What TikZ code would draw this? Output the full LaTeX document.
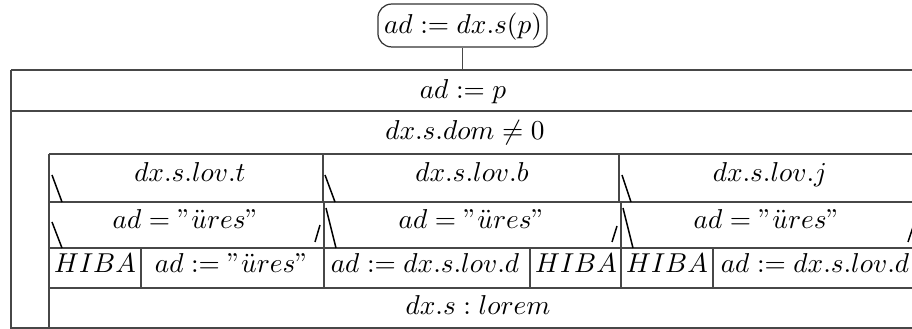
\documentclass[tikz,border=0pt]{standalone}
\begin{document}
\begin{tikzpicture}[x=0.366pt,y=-0.366pt,
  ln/.style={draw=black!72, line width=0.45pt},
  mk/.style={draw=black, line width=0.55pt},
  lbl/.style={inner sep=0pt, anchor=base}]
\useasboundingbox (0,0) rectangle (912,329);
\clip (0,0) rectangle (912,329);
% top node
\node[draw=black!80, line width=0.45pt, rounded corners=5pt, inner sep=0pt,
      minimum width=61.9pt, minimum height=15.7pt] (top) at (462.5,25.5) {};
\node[lbl] (ttop) at (463,34) {$ad := dx.s(p)$};
\coordinate (otop) at (464,70);
\draw[ln] (top.south) -- (top.south |- otop);
% outer structure
\draw[ln] (11,70) -- (925,70);
\draw[ln] (11,70) -- (11,328) -- (925,328);
\draw[ln] (11,111) -- (925,111);
\node[lbl] (assign) at (463,99) {$ad := p$};
\node[lbl] (loop) at (465,140) {$dx.s.dom \neq 0$};
% inner case block
\draw[ln] (49,154) -- (925,154);
\draw[ln] (49,154) -- (49,328);
\draw[ln] (49,202) -- (925,202);
\draw[ln] (49,248) -- (925,248);
\draw[ln] (49,288) -- (925,288);
\draw[ln] (323,154) -- (323,202);
\draw[ln] (324,202) -- (324,288);
\draw[ln] (619,154) -- (619,202);
\draw[ln] (621,202) -- (621,288);
\draw[ln] (141,248) -- (141,288);
\draw[ln] (530,248) -- (530,288);
\draw[ln] (713,248) -- (713,288);
% corner marks
\draw[mk] (52,175) -- (62,202);
\draw[mk] (325,175) -- (335,202);
\draw[mk] (622,175) -- (631,202);
\draw[mk] (52,222) -- (62,248);
\draw[mk] (326,208) -- (336,248);
\draw[mk] (623,208) -- (633,248);
\draw[mk] (315,242) -- (320,225);
\draw[mk] (612,242) -- (617,226);
\draw[mk] (908,242) -- (913,227);
% row 1
\node[lbl] (c1) at (190,182) {$dx.s.lov.t$};
\node[lbl] (c2) at (472,182) {$dx.s.lov.b$};
\node[lbl] (c3) at (770,182) {$dx.s.lov.j$};
% row 2
\node[lbl] (i1) at (186,229) {$ad = "\ddot{u}res"$};
\node[lbl] (i2) at (472,229) {$ad = "\ddot{u}res"$};
\node[lbl] (i3) at (767,229) {$ad = "\ddot{u}res"$};
% row 3
\node[lbl] (h1) at (95,273) {$HIBA$};
\node[lbl] (a1) at (232,273) {$ad := "\ddot{u}res"$};
\node[lbl] (a2) at (425,273) {$ad := dx.s.lov.d$};
\node[lbl] (h2) at (576,273) {$HIBA$};
\node[lbl] (h3) at (667,273) {$HIBA$};
\node[lbl] (a3) at (815,273) {$ad := dx.s.lov.d$};
% row 4
\node[lbl] (lr) at (478,315) {$dx.s : lorem$};
\end{tikzpicture}
\end{document}
